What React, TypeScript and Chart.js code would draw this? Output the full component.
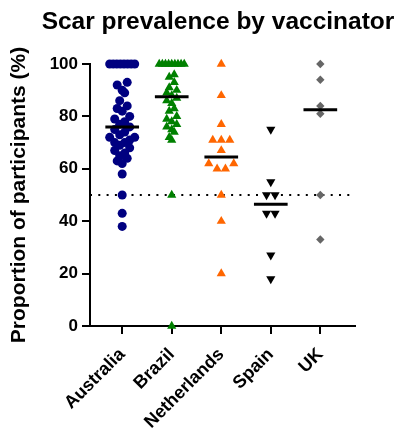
import React, { useEffect, useRef } from 'react';
import { Chart, registerables } from 'chart.js';

Chart.register(...registerables);

// ---------- data ----------
const categories = ['Australia', 'Brazil', 'Netherlands', 'Spain', 'UK'];
const australia = [100, 100, 100, 100, 100, 100, 100, 100, 93, 92, 90, 89, 86, 84, 83, 82, 80, 79, 78, 77, 76, 75, 74, 73, 72, 72, 71, 70, 70, 69, 68, 67, 66, 65, 64, 63, 62, 58, 50, 43, 38];
const brazil = [100, 100, 100, 100, 100, 100, 100, 100, 100, 96, 95, 93, 91, 90, 89, 88, 87, 86, 85, 83, 82, 80, 79, 78, 77, 76, 75, 74, 72, 71, 50, 0];
const netherlands = [100, 88, 77, 71, 71, 71, 67, 62, 62, 60, 60, 50, 40, 20];
const spain = [75, 55, 50, 50, 43, 43, 27, 18];
const uk = [100, 94, 84, 81, 50, 33];
const yTicks = [0, 20, 40, 60, 80, 100];
const referenceLine = 50;
const chartTitle = 'Scar prevalence by vaccinator';
const yTitle = 'Proportion of participants (%)';

const seriesValues = [australia, brazil, netherlands, spain, uk];

// ---------- styles ----------
const FONT = "'Liberation Sans', Arial, sans-serif";
const colors = ['#000080', '#008000', '#FF6600', '#000000', '#666666'];
const pointStyles = ['circle', 'triangle', 'triangle', 'triangle', 'rectRot'];
const rotations = [0, 0, 0, 180, 0];
const radii = [4.5, 5.3, 5.3, 5.3, 4.2];
const markerW = [5, 5, 8.5, 8.5, 8];
const rowH = [8, 7, 8, 8, 6];
const MAX_SPREAD = 25;
const MEDIAN_HALF = 0.34;
const X_MIN = -0.65;
const X_MAX = 4.7;

function median(v: number[]): number {
  const s = [...v].sort((a, b) => a - b);
  const n = s.length;
  return n % 2 ? s[(n - 1) / 2] : (s[n / 2 - 1] + s[n / 2]) / 2;
}

// Row-based scatter spreading (like a column scatter plot), in pixel space.
function swarmOffsets(values: number[], pxY: number, pxX: number, w: number, h: number): number[] {
  const idx = values.map((_, i) => i).sort((a, b) => values[b] - values[a]);
  const offs = new Array(values.length).fill(0);
  let i = 0;
  while (i < idx.length) {
    const start = values[idx[i]];
    const row: number[] = [];
    while (i < idx.length && (start - values[idx[i]]) * pxY < h) {
      row.push(idx[i]);
      i++;
    }
    const n = row.length;
    const step = n > 1 ? Math.min(w, MAX_SPREAD / (n - 1)) : 0;
    const slots: number[] = [];
    for (let k = 0; k < n; k++) slots.push((k - (n - 1) / 2) * step);
    slots.sort((a, b) => Math.abs(b) - Math.abs(a) || b - a);
    row.forEach((pi, k) => {
      offs[pi] = slots[k] / pxX;
    });
  }
  return offs;
}

const titlePlugin = {
  id: 'centeredTitle',
  afterDraw(chart: any) {
    const ctx = chart.ctx;
    ctx.save();
    ctx.fillStyle = '#000';
    ctx.font = `bold 24.5px ${FONT}`;
    ctx.textAlign = 'center';
    ctx.textBaseline = 'alphabetic';
    ctx.fillText(chartTitle, 218, 29);
    ctx.restore();
  },
};

export default function App() {
  const canvasRef = useRef<HTMLCanvasElement | null>(null);

  useEffect(() => {
    if (!canvasRef.current) return;

    const scatterSets: any[] = seriesValues.map((vals, ci) => ({
      type: 'scatter',
      label: categories[ci],
      data: vals.map((v) => ({ x: ci, y: v })),
      pointStyle: pointStyles[ci],
      pointRotation: rotations[ci],
      pointRadius: radii[ci],
      pointHoverRadius: radii[ci],
      backgroundColor: colors[ci],
      borderColor: colors[ci],
      borderWidth: 0,
      clip: false,
      order: 1,
    }));

    const medianSets: any[] = seriesValues.map((vals, ci) => {
      const m = median(vals);
      return {
        type: 'line',
        label: 'median ' + categories[ci],
        data: [
          { x: ci - MEDIAN_HALF, y: m },
          { x: ci + MEDIAN_HALF, y: m },
        ],
        borderColor: '#000',
        borderWidth: 3,
        pointRadius: 0,
        fill: false,
        clip: false,
        order: 0,
      };
    });

    const refSet: any = {
      type: 'line',
      label: 'reference',
      data: [
        { x: X_MIN, y: referenceLine },
        { x: X_MAX, y: referenceLine },
      ],
      borderColor: '#000',
      borderWidth: 2,
      borderDash: [2, 6.3],
      pointRadius: 0,
      fill: false,
      order: 2,
    };

    const gridOpts = {
      drawOnChartArea: false,
      drawTicks: true,
      tickLength: 8,
      color: '#000',
      lineWidth: 2,
    };

    const chart = new Chart(canvasRef.current, {
      type: 'scatter',
      data: { datasets: [...medianSets, ...scatterSets, refSet] },
      plugins: [titlePlugin],
      options: {
        animation: false,
        responsive: true,
        maintainAspectRatio: false,
        layout: { padding: { left: 0, right: 53, top: 64, bottom: 0 } },
        plugins: {
          legend: { display: false },
          tooltip: { enabled: false },
          title: { display: false },
        },
        scales: {
          x: {
            type: 'linear',
            min: X_MIN,
            max: X_MAX,
            afterBuildTicks: (s: any) => {
              s.ticks = categories.map((_, i) => ({ value: i }));
            },
            afterFit: (s: any) => {
              s.height = 110;
            },
            ticks: {
              autoSkip: false,
              minRotation: 45,
              maxRotation: 45,
              color: '#000',
              padding: 10,
              font: { family: FONT, size: 18, weight: 'bold' },
              callback: (v: any) => categories[Math.round(Number(v))] ?? '',
            },
            grid: gridOpts,
            border: { color: '#000', width: 2 },
          },
          y: {
            type: 'linear',
            min: 0,
            max: 100,
            afterBuildTicks: (s: any) => {
              s.ticks = yTicks.map((v) => ({ value: v }));
            },
            afterFit: (s: any) => {
              s.width = 90;
            },
            ticks: {
              color: '#000',
              padding: 4,
              font: { family: FONT, size: 17, weight: 'bold' },
            },
            grid: gridOpts,
            border: { color: '#000', width: 2 },
            title: {
              display: true,
              text: yTitle,
              color: '#000',
              font: { family: FONT, size: 21, weight: 'bold' },
              padding: { top: 7, bottom: 5 },
            },
          },
        },
      } as any,
    });

    // spread points horizontally using the chart's own scales
    const xs: any = chart.scales.x;
    const ys: any = chart.scales.y;
    const pxX = xs.getPixelForValue(1) - xs.getPixelForValue(0);
    const pxY = ys.getPixelForValue(0) - ys.getPixelForValue(1);
    seriesValues.forEach((vals, ci) => {
      const offs = swarmOffsets(vals, pxY, pxX, markerW[ci], rowH[ci]);
      (chart.data.datasets[medianSets.length + ci] as any).data = vals.map((v, k) => ({ x: ci + offs[k], y: v }));
    });
    chart.update();

    return () => {
      chart.destroy();
    };
  }, []);

  return (
    <div style={{ position: 'fixed', left: 0, top: 0, width: 408, height: 436, background: '#fff' }}>
      <canvas ref={canvasRef} />
    </div>
  );
}
